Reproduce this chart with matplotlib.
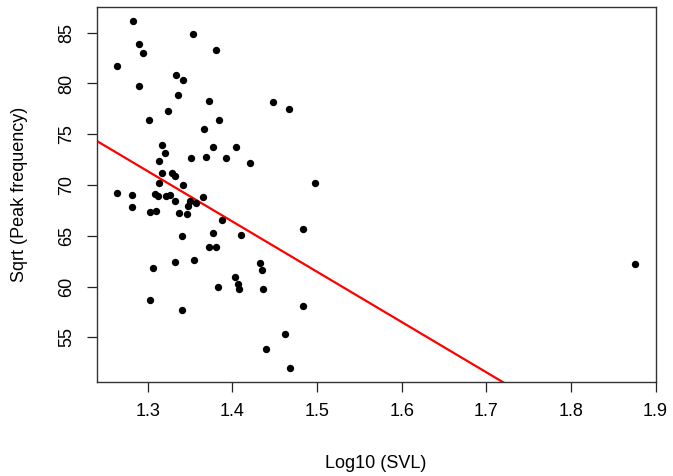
import numpy as np
import matplotlib
matplotlib.use('Agg')
import matplotlib.pyplot as plt

# log10 of snout-vent length
log_svl = [1.282, 1.353, 1.290, 1.294, 1.381, 1.264, 1.333, 1.342, 1.290, 1.336,
           1.372, 1.448, 1.467, 1.324, 1.301, 1.384, 1.366, 1.317, 1.320, 1.377,
           1.404, 1.351, 1.369, 1.392, 1.421, 1.313, 1.317, 1.328, 1.332, 1.313,
           1.342, 1.498, 1.264, 1.281, 1.309, 1.312, 1.322, 1.326, 1.365, 1.281,
           1.332, 1.350, 1.347, 1.357, 1.302, 1.310, 1.337, 1.346, 1.388, 1.377,
           1.410, 1.340, 1.372, 1.381, 1.483, 1.332, 1.354, 1.306, 1.432, 1.435,
           1.403, 1.406, 1.408, 1.383, 1.436, 1.483, 1.302, 1.340, 1.462, 1.440,
           1.468, 1.876]
# sqrt of peak frequency
sqrt_peak = [86.14, 84.90, 83.87, 82.97, 83.29, 81.71, 80.81, 80.34, 79.77, 78.86,
             78.32, 78.20, 77.50, 77.29, 76.39, 76.39, 75.47, 73.98, 73.16, 73.76,
             73.76, 72.62, 72.75, 72.62, 72.16, 72.39, 71.15, 71.16, 70.91, 70.20,
             70.00, 70.23, 69.18, 68.97, 69.09, 68.95, 68.87, 69.02, 68.85, 67.84,
             68.40, 68.40, 67.94, 68.26, 67.35, 67.48, 67.25, 67.12, 66.56, 65.31,
             65.09, 64.99, 63.94, 63.94, 65.65, 62.37, 62.60, 61.82, 62.31, 61.58,
             60.91, 60.25, 59.75, 59.98, 59.76, 58.05, 58.63, 57.72, 55.33, 53.82,
             51.99, 62.24]

# fitted line (intercept, slope)
fit_a = 135.7
fit_b = -49.5

xticks = [1.3, 1.4, 1.5, 1.6, 1.7, 1.8, 1.9]
yticks = [55, 60, 65, 70, 75, 80, 85]

plt.rcParams['font.family'] = ['Liberation Sans', 'DejaVu Sans']

fig = plt.figure(figsize=(6.73, 4.76), dpi=100)
ax = fig.add_axes([0.1437, 0.1981, 0.8310, 0.7866])

x = np.array(log_svl)
y = np.array(sqrt_peak)
# R style 4% padding
rx = x.max() - x.min()
ry = y.max() - y.min()
ax.set_xlim(x.min() - 0.04*rx, x.max() + 0.04*rx)
ax.set_ylim(y.min() - 0.04*ry, y.max() + 0.04*ry)

ax.scatter(x, y, s=28, color='black', linewidths=0, zorder=3)

xl = np.array(ax.get_xlim())
ax.plot(xl, fit_a + fit_b*xl, color='red', lw=1.6, zorder=2)
ax.set_xlim(xl)

ax.set_xticks(xticks)
ax.set_xticklabels([str(t) for t in xticks])
ax.set_yticks(yticks)
ax.set_yticklabels([str(t) for t in yticks])
ax.tick_params(length=7.5, width=0.9, pad=8, labelsize=13, color='#222222')
ax.tick_params(axis='y', labelrotation=90)
for lab in ax.get_yticklabels():
    lab.set_va('center')
for sp in ax.spines.values():
    sp.set_linewidth(1.0)
    sp.set_color('#333333')

fig.text(0.5587, 1 - 463/476, 'Log10 (SVL)', ha='center', va='center', fontsize=13)
fig.text(20/673, 1 - 194.5/476, 'Sqrt (Peak frequency)', ha='center', va='center',
         rotation=90, fontsize=13)

fig.savefig('out.png', dpi=100)
